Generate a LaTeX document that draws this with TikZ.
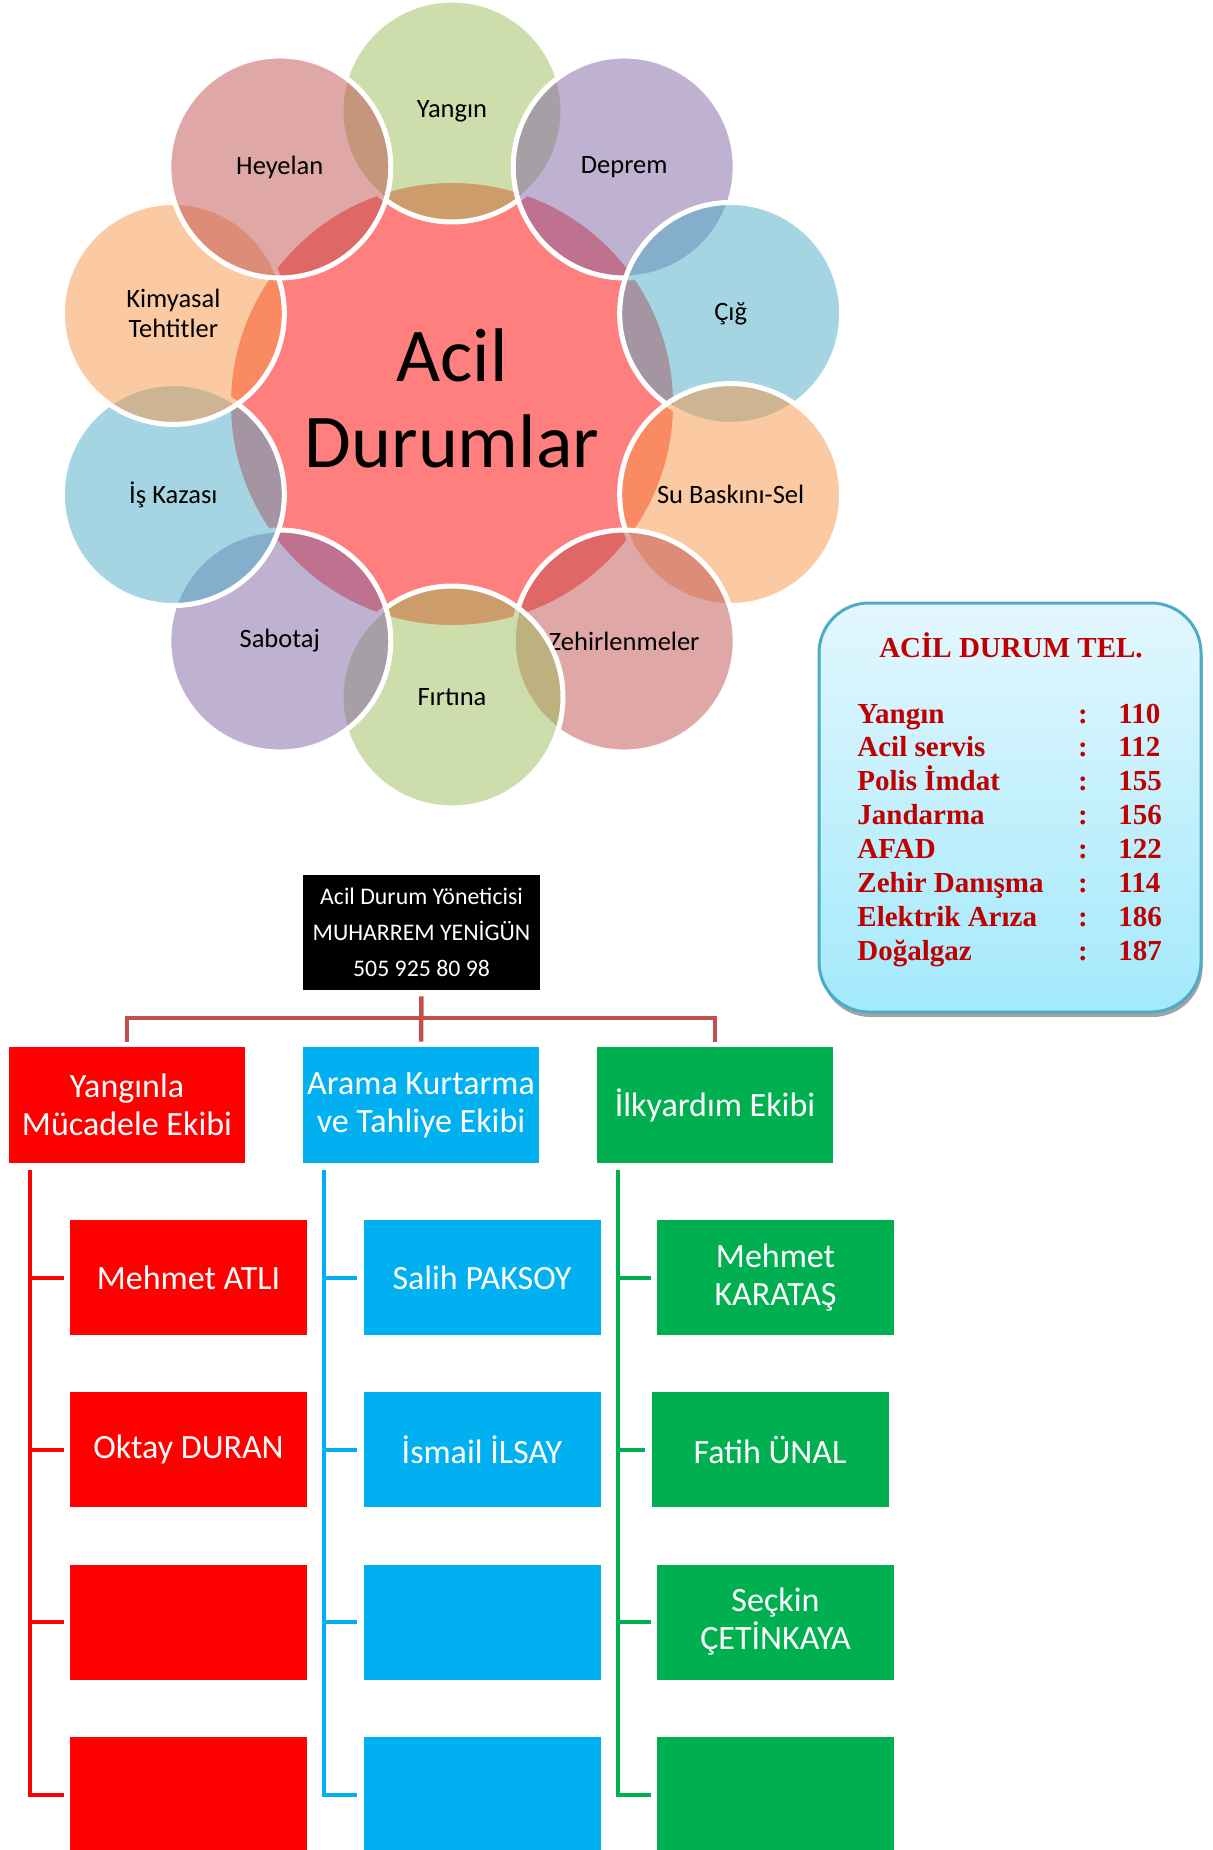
\documentclass[tikz,border=0pt]{standalone}
\usepackage{fontspec}
\setmainfont{Carlito}
\newfontfamily\telfont{Liberation Serif}
\usepackage{xcolor}
\usepackage{tikz}
\usetikzlibrary{shadows}

\definecolor{petalgreen}{HTML}{9BBB59}
\definecolor{petalpurple}{HTML}{8064A2}
\definecolor{petalaqua}{HTML}{4BACC6}
\definecolor{petalorange}{HTML}{F79646}
\definecolor{petalred}{HTML}{C0504D}
\definecolor{teamred}{HTML}{FF0000}
\definecolor{teamblue}{HTML}{00B0F0}
\definecolor{teamgreen}{HTML}{00B050}
\definecolor{telred}{HTML}{C00000}
\definecolor{teltop}{HTML}{E3F7FD}
\definecolor{telbottom}{HTML}{A3E9FC}

\begin{document}
\begin{tikzpicture}[x=0.5pt, y=-0.5pt,
  hub/.style={circle, minimum size=221pt, inner sep=0pt, fill=red, fill opacity=0.5},
  hubtext/.style={inner sep=0pt, align=center, font=\fontsize{38}{43}\selectfont},
  petal/.style={circle, minimum size=111pt, inner sep=0pt, draw=white, line width=2.5pt,
    fill opacity=0.5, text opacity=1, align=center, font=\fontsize{13.25}{14.75}\selectfont},
  telbox/.style={rectangle, rounded corners=25pt, minimum width=191pt, minimum height=204.5pt,
    draw=petalaqua, line width=1.5pt, top color=teltop, bottom color=telbottom,
    drop shadow={shadow xshift=0.8pt, shadow yshift=-2.5pt, fill=gray!80, opacity=0.9}},
  telrow/.style={inner sep=0pt, text=telred, font=\telfont\bfseries\fontsize{14.5}{16}\selectfont},
  mgrbox/.style={rectangle, fill=black, text=white, minimum width=118.5pt, minimum height=57.5pt,
    inner sep=0pt, align=center, font=\fontsize{11.9}{18}\selectfont},
  teambox/.style={rectangle, minimum width=118pt, minimum height=58pt, inner sep=0pt,
    text=white, align=center, font=\fontsize{17}{19}\selectfont},
  memberbox/.style={rectangle, minimum width=118.5pt, minimum height=57.5pt, inner sep=0pt,
    text=white, align=center, font=\fontsize{17}{19}\selectfont},
  orgline/.style={draw=petalred, line width=2.25pt},
  bracket/.style={line width=2pt}]
\useasboundingbox (0,0) rectangle (1213,1850);

% emergency ring
\node[hub] (hub) at (452,404) {};
\node[hubtext] (hubtxt) at (452,398) {Acil\\Durumlar};
\foreach \k/\lbl/\col in {0/Yangın/petalgreen, 1/Deprem/petalpurple, 2/Çığ/petalaqua,
    3/Su Baskını-Sel/petalorange, 4/Zehirlenmeler/petalred, 5/Fırtına/petalgreen,
    6/Sabotaj/petalpurple, 7/İş Kazası/petalaqua, 8/{Kimyasal\\Tehtitler}/petalorange,
    9/Heyelan/petalred}
  \node[petal, fill=\col] (p\k) at ({452+293*cos(90-36*\k)}, {404-293*sin(90-36*\k)}) {\lbl};

% phone list
\node[telbox] (tel) at (1010,807.5) {};
\node[telrow, anchor=base] (teltitle) at (1011,657) {ACİL DURUM TEL.};
\foreach \name/\num [count=\i from 0] in {Yangın/110, Acil servis/112, Polis İmdat/155,
    Jandarma/156, AFAD/122, Zehir Danışma/114, Elektrik Arıza/186, Doğalgaz/187} {
  \node[telrow, anchor=base west] (tl\i) at (857, {723+33.9*\i}) {\name};
  \node[telrow, anchor=base] (tc\i) at (1083, {723+33.9*\i}) {:};
  \node[telrow, anchor=base west] (tn\i) at (1118, {723+33.9*\i}) {\num};
}

% organisation
\node[mgrbox] (mgr) at (421.5,932.5) {Acil Durum Yöneticisi\\MUHARREM YENİGÜN\\505 925 80 98};
\node[teambox, fill=teamred] (t1) at (127,1105) {Yangınla\\Mücadele Ekibi};
\node[teambox, fill=teamblue] (t2) at (421,1105) {Arama Kurtarma\\ve Tahliye Ekibi};
\node[teambox, fill=teamgreen] (t3) at (715,1105) {İlkyardım Ekibi};
\coordinate (bar) at (421,1018);
\draw[orgline, shorten <=3pt, shorten >=2.5pt] (mgr.south) -- (t2.north);
\draw[orgline, shorten <=2.5pt, shorten >=2.5pt] (t1.north) -- (t1.north |- bar) -- (t3.north |- bar) -- (t3.north);

\node[memberbox, fill=teamred] (m11) at (188.5,1277.5) {Mehmet ATLI};
\node[memberbox, fill=teamred] (m12) at (188.5,1449.5) {Oktay DURAN};
\node[memberbox, fill=teamred] (m13) at (188.5,1622) {};
\node[memberbox, fill=teamred] (m14) at (188.5,1794.5) {};
\node[memberbox, fill=teamblue] (m21) at (482,1277.5) {Salih PAKSOY};
\node[memberbox, fill=teamblue] (m22) at (482,1449.5) {İsmail İLSAY};
\node[memberbox, fill=teamblue] (m23) at (482,1622) {};
\node[memberbox, fill=teamblue] (m24) at (482,1794.5) {};
\node[memberbox, fill=teamgreen] (m31) at (775.5,1277.5) {Mehmet\\KARATAŞ};
\node[memberbox, fill=teamgreen] (m32) at (770,1449.5) {Fatih ÜNAL};
\node[memberbox, fill=teamgreen] (m33) at (775.5,1622) {Seçkin\\ÇETİNKAYA};
\node[memberbox, fill=teamgreen] (m34) at (775.5,1794.5) {};

\foreach \t/\col in {1/teamred, 2/teamblue, 3/teamgreen} {
  \coordinate (b\t) at ([xshift=10.75pt]t\t.south west);
  \draw[bracket, draw=\col, shorten <=3.5pt, shorten >=3pt] (b\t) -- (b\t |- m\t4.west) -- (m\t4.west);
  \foreach \i in {1,2,3}
    \draw[bracket, draw=\col, shorten >=3pt] (b\t |- m\t\i.west) -- (m\t\i.west);
}
\end{tikzpicture}
\end{document}
